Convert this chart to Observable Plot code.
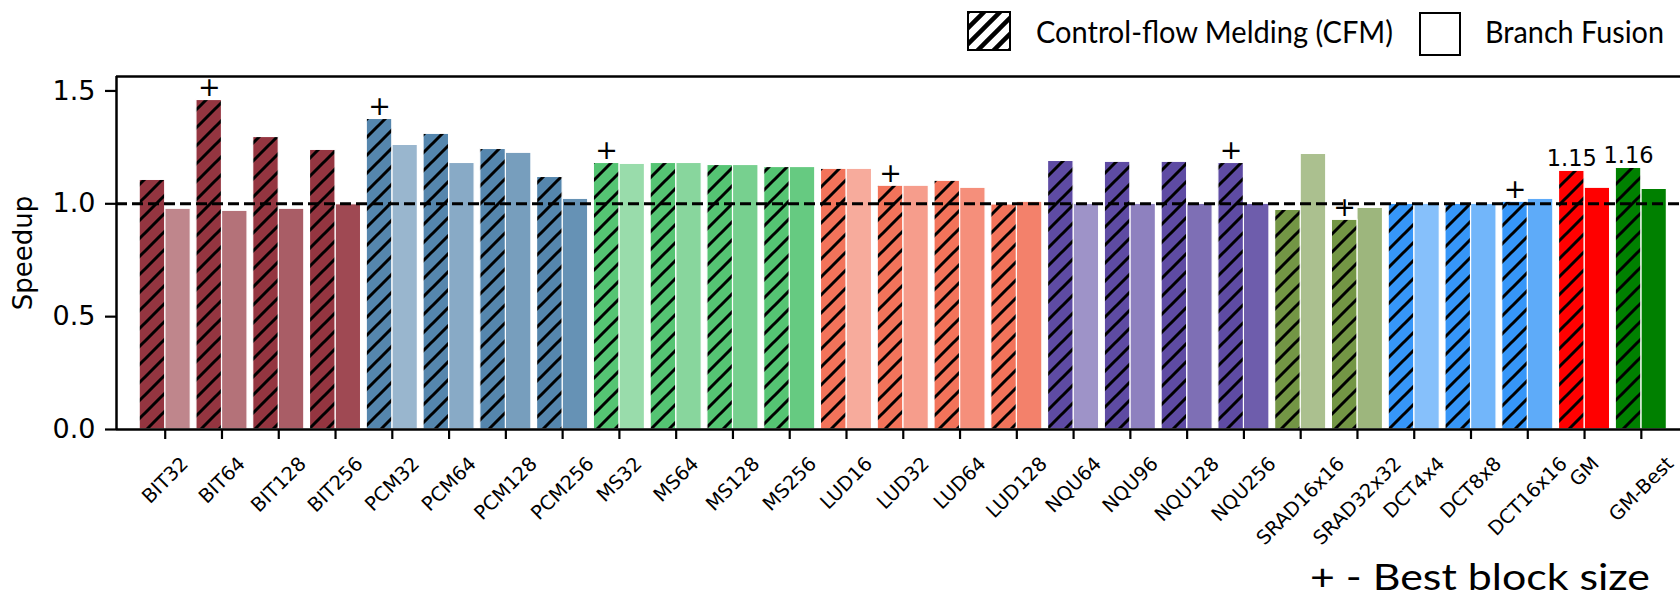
<!DOCTYPE html>
<html>
<head>
<meta charset="utf-8">
<script src="https://cdn.jsdelivr.net/npm/d3@7"></script>
<script src="https://cdn.jsdelivr.net/npm/@observablehq/plot@0.6"></script>
<style>
  html, body { margin: 0; padding: 0; background: white; }
  #wrap { position: relative; width: 1680px; height: 596px; overflow: hidden; }
  #overlay { position: absolute; left: 0; top: 0; pointer-events: none; }
</style>
</head>
<body>
<div id="wrap"></div>
<script>
// ---- data ----
const categories = ["BIT32","BIT64","BIT128","BIT256","PCM32","PCM64","PCM128","PCM256",
  "MS32","MS64","MS128","MS256","LUD16","LUD32","LUD64","LUD128",
  "NQU64","NQU96","NQU128","NQU256","SRAD16x16","SRAD32x32",
  "DCT4x4","DCT8x8","DCT16x16","GM","GM-Best"];
const cfm = [1.106,1.460,1.296,1.239, 1.376,1.310,1.243,1.119,
  1.181,1.181,1.172,1.163, 1.155,1.080,1.102,0.997,
  1.190,1.186,1.186,1.181, 0.973,0.929,
  1.000,1.000,1.009, 1.146,1.159];
const bf = [0.978,0.969,0.978,0.998, 1.261,1.181,1.226,1.022,
  1.177,1.181,1.172,1.163, 1.155,1.080,1.071,1.009,
  1.000,1.000,1.000,1.000, 1.221,0.982,
  1.000,1.000,1.022, 1.071,1.066];
const best = ["BIT64","PCM32","MS32","LUD32","NQU256","SRAD32x32","DCT16x16"];
const annotated = ["GM","GM-Best"];
const yTicks = [0, 0.5, 1.0, 1.5];

// ---- styles ----
const groupColors = {BIT:"#943540", PCM:"#5586ad", MS:"#55c473", LUD:"#f2735a",
  NQU:"#5e4ba3", SRAD:"#739645", DCT:"#3696f8", "GM":"#ff0000", "GM-Best":"#008000"};

function groupOf(name) { return name.startsWith("GM") ? name : name.match(/^[A-Z]+/)[0]; }
const counter = {};
const rows = categories.map((name, i) => {
  const g = groupOf(name);
  const j = counter[g] = (counter[g] ?? -1) + 1;
  const base = groupColors[g];
  const op = g.startsWith("GM") ? 1 : 0.6 + 0.1 * j;
  return {i, name, cfm: cfm[i], bf: bf[i], base, light: d3.interpolateRgb("white", base)(op)};
});
const bestRows = rows.filter(d => best.includes(d.name));
const annRows = rows.filter(d => annotated.includes(d.name));

const W = 0.45;
const xDomain = [-0.858, 26.69];
const yDomain = [0, 1.564];

// measure x label widths for matplotlib-like centred rotated labels
const ctx = document.createElement("canvas").getContext("2d");
const labFs = 19.5;
ctx.font = `${labFs}px "DejaVu Sans"`;
const labelMarks = rows.map(d => {
  const w = ctx.measureText(d.name).width;
  return Plot.text([d], {
    x: r => r.i, frameAnchor: "bottom", text: r => r.name,
    rotate: -45, textAnchor: "middle", lineAnchor: "middle",
    fontSize: labFs, fill: "black",
    dy: 27 + 0.3536 * (w + 0.58 * labFs)
  });
});

const svg = Plot.plot({
  width: 1680, height: 596,
  marginLeft: 116, marginRight: 0, marginTop: 76, marginBottom: 167,
  x: {type: "linear", domain: xDomain},
  y: {domain: yDomain},
  color: {type: "identity"},
  style: {fontFamily: "DejaVu Sans", fontSize: "27px", color: "black", background: "white"},
  marks: [
    // Branch Fusion bars
    Plot.rectY(rows, {x1: d => d.i, x2: d => d.i + W, y1: 0, y2: "bf", fill: "light", stroke: "white", strokeWidth: 1.2}),
    // CFM bars (colour + hatch)
    Plot.rectY(rows, {x1: d => d.i - W, x2: d => d.i, y1: 0, y2: "cfm", fill: "base"}),
    Plot.rectY(rows, {x1: d => d.i - W, x2: d => d.i, y1: 0, y2: "cfm", fill: "url(#hatch)", stroke: "white", strokeWidth: 1.2}),
    // baseline at 1.0
    Plot.ruleY([1], {stroke: "black", strokeWidth: 3, strokeDasharray: "11,5"}),
    // best-block markers
    Plot.text(bestRows, {x: d => d.i - W / 2, y: "cfm", text: () => "+", dy: -12.5, lineAnchor: "middle", fontSize: 27, fill: "black"}),
    // GM value labels
    Plot.text(annRows, {x: d => d.i - W / 2, y: "cfm", text: d => d.cfm.toFixed(2), dy: -4.5, lineAnchor: "bottom", fontSize: 22.5, fill: "black"}),
    // axes
    Plot.axisY({ticks: yTicks, tickFormat: d3.format(".1f"), tickSize: 11, tickPadding: 10, strokeWidth: 2.2, label: null, fontSize: 27}),
    Plot.axisX({ticks: d3.range(categories.length), tickFormat: () => "", tickSize: 10, strokeWidth: 2.2, label: null}),
    ...labelMarks,
    Plot.text(["Speedup"], {frameAnchor: "left", text: d => d, rotate: -90, dx: -93, textAnchor: "middle", lineAnchor: "middle", fontSize: 26, fill: "black"}),
    // spines
    Plot.ruleY([0], {stroke: "black", strokeWidth: 2.5}),
    Plot.ruleY([yDomain[1]], {stroke: "black", strokeWidth: 2.5}),
    Plot.ruleX([xDomain[0]], {stroke: "black", strokeWidth: 2.5})
  ]
});

svg.insertAdjacentHTML("afterbegin",
  `<defs>
     <pattern id="hatch" patternUnits="userSpaceOnUse" width="18" height="18">
       <path d="M-2,20 L20,-2 M-4.5,4.5 L4.5,-4.5 M13.5,22.5 L22.5,13.5" stroke="black" stroke-width="3" fill="none"/>
     </pattern>
     <pattern id="hatchLegend" patternUnits="userSpaceOnUse" width="16" height="16" x="968" y="12">
       <path d="M-2,18 L18,-2 M-4,4 L4,-4 M12,20 L20,12" stroke="black" stroke-width="4.5" fill="none"/>
     </pattern>
   </defs>`);

const wrap = document.getElementById("wrap");
wrap.appendChild(svg);

// legend + note overlay
const ns = "http://www.w3.org/2000/svg";
const ov = document.createElementNS(ns, "svg");
ov.setAttribute("id", "overlay");
ov.setAttribute("width", 1680);
ov.setAttribute("height", 596);
ov.innerHTML = `
  <rect x="968" y="12" width="42" height="38" fill="url(#hatchLegend)" stroke="black" stroke-width="2"/>
  <text x="1036" y="43" font-family="Lato" font-size="30" fill="black" textLength="357" lengthAdjust="spacingAndGlyphs">Control-flow Melding (CFM)</text>
  <rect x="1420" y="13" width="40" height="42" fill="white" stroke="black" stroke-width="2"/>
  <text x="1485" y="43" font-family="Lato" font-size="30" fill="black" textLength="179" lengthAdjust="spacingAndGlyphs">Branch Fusion</text>
  <text x="1310" y="590" font-family="Lato" font-size="37" fill="black" textLength="340" lengthAdjust="spacingAndGlyphs">+ - Best block size</text>
`;
wrap.appendChild(ov);
</script>
</body>
</html>
